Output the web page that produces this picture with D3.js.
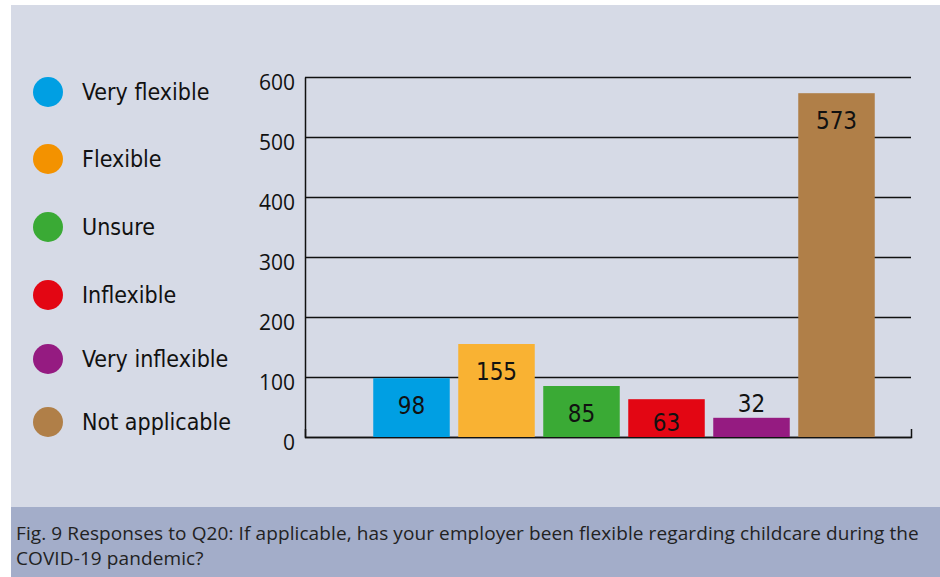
<!DOCTYPE html>
<html>
<head>
<meta charset="utf-8">
<script src="https://cdn.jsdelivr.net/npm/d3@7"></script>
<style>
  body { margin: 0; background: #fff; }
</style>
</head>
<body>
<script>
// données
const categories = ["Very flexible", "Flexible", "Unsure", "Inflexible", "Very inflexible", "Not applicable"];
const valeurs = [98, 155, 85, 63, 32, 573];
const couleursBarres = ["#009fe3", "#f9b233", "#3aaa35", "#e30613", "#951b81", "#b07f48"];
const couleursLegende = ["#009fe3", "#f39200", "#3aaa35", "#e30613", "#951b81", "#b07f48"];
const graduations = [0, 100, 200, 300, 400, 500, 600];
const legende = ["Fig. 9 Responses to Q20: If applicable, has your employer been flexible regarding childcare during the",
                 "COVID-19 pandemic?"];

let canevas = d3.select("body")
    .append("svg")
    .attr("width", 940)
    .attr("height", 577);

// fond
canevas.append("rect")
    .attr("x", 11).attr("y", 5)
    .attr("width", 929).attr("height", 572)
    .attr("fill", "#d6dae6");

canevas.append("rect")
    .attr("x", 11).attr("y", 507)
    .attr("width", 929).attr("height", 70)
    .attr("fill", "#a3adc9");

canevas.selectAll("text.caption")
    .data(legende)
    .enter().append("text")
    .attr("class", "caption")
    .attr("x", 16)
    .attr("y", (d, i) => 540 + i * 25)
    .style("font-family", "'Open Sans', sans-serif")
    .style("font-size", "19px")
    .style("letter-spacing", "0.1px")
    .style("fill", "#222")
    .text(d => d);

// échelles
const y = d3.scaleLinear()
    .domain([0, 600])
    .range([437, 77]);
const x = d3.scaleBand()
    .domain(categories)
    .range([369, 879])
    .paddingInner(0.1)
    .paddingOuter(0.05);

// axe vertical + grille
const axeY = canevas.append("g")
    .attr("transform", "translate(305,0)")
    .call(d3.axisLeft(y)
        .tickValues(graduations)
        .tickSize(-606)
        .tickSizeOuter(0)
        .tickPadding(10));
axeY.select(".domain").attr("stroke", "#111").attr("stroke-width", 1.5);
axeY.selectAll(".tick line").attr("stroke", "#111").attr("stroke-width", 1.5);
axeY.selectAll(".tick text")
    .attr("dy", "0.6em")
    .style("font-family", "'Open Sans', sans-serif")
    .style("font-size", "21px")
    .style("fill", "#111");

// axe horizontal
const axeX = canevas.append("g")
    .attr("transform", "translate(0,437)")
    .call(d3.axisTop(d3.scaleLinear().domain([0, 1]).range([305, 911]))
        .tickValues([])
        .tickSizeOuter(8));
axeX.select(".domain").attr("stroke", "#111").attr("stroke-width", 1.5);

// barres
canevas.selectAll("rect.barre")
    .data(valeurs)
    .enter().append("rect")
    .attr("class", "barre")
    .attr("x", (d, i) => x(categories[i]))
    .attr("y", d => y(d))
    .attr("width", x.bandwidth())
    .attr("height", d => y(0) - y(d))
    .style("fill", (d, i) => couleursBarres[i]);

canevas.selectAll("text.valeur")
    .data(valeurs)
    .enter().append("text")
    .attr("class", "valeur")
    .attr("x", (d, i) => x(categories[i]) + x.bandwidth() / 2)
    .attr("y", d => {
        if (y(0) - y(d) < 25) return y(d) - 6;
        return Math.min(y(d) + 36, 431);
    })
    .attr("text-anchor", "middle")
    .style("font-family", "'DejaVu Sans Condensed', sans-serif")
    .style("font-size", "24px")
    .style("fill", "#111")
    .text(d => d);

// légende
const items = canevas.selectAll("g.item")
    .data(categories)
    .enter().append("g")
    .attr("class", "item")
    .attr("transform", (d, i) => "translate(48," + [92, 159, 227, 295, 359, 422][i] + ")");

items.append("circle")
    .attr("r", 15)
    .style("fill", (d, i) => couleursLegende[i]);

items.append("text")
    .attr("x", 34)
    .attr("dy", "0.36em")
    .style("font-family", "'DejaVu Sans Condensed', sans-serif")
    .style("font-size", "23px")
    .style("fill", "#111")
    .text(d => d);
</script>
</body>
</html>
